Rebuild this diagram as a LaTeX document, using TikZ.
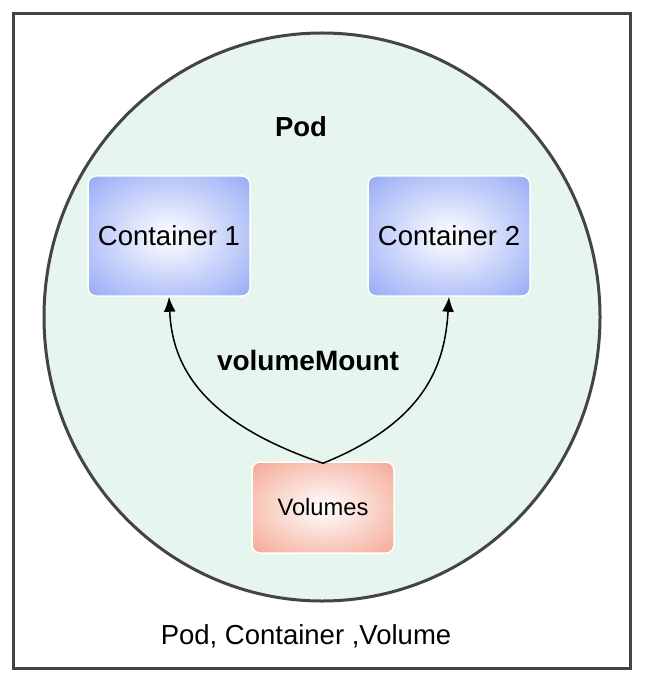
\documentclass[tikz,border=0pt]{standalone}
\usepackage{fontspec}
\setmainfont{Liberation Sans}
\usetikzlibrary{shapes.geometric,arrows.meta}
\definecolor{frame}{HTML}{444444}
\definecolor{mint}{HTML}{E6F6EE}
\definecolor{contblue}{HTML}{8FA5F5}
\definecolor{volred}{HTML}{F3A28C}
\pgfdeclareradialshading{contshade}{\pgfpoint{0bp}{0bp}}{color(0bp)=(white); color(38bp)=(contblue); color(72bp)=(contblue)}
\pgfdeclareradialshading{volshade}{\pgfpoint{0bp}{0bp}}{color(0bp)=(white); color(38bp)=(volred); color(72bp)=(volred)}
\tikzset{
  bigtext/.style={font=\fontsize{27.5}{30}\selectfont},
  cbox/.style={draw=white, line width=1.5pt, rounded corners=8pt, minimum width=162pt, minimum height=120pt, inner sep=0pt, shading=contshade, bigtext},
  vbox/.style={draw=white, line width=1.5pt, rounded corners=8pt, minimum width=142pt, minimum height=91pt, inner sep=0pt, shading=volshade, font=\fontsize{23.7}{26}\selectfont},
  mount/.style={line width=1.5pt, -{Latex[length=15pt,width=12pt]}}
}
\begin{document}
\begin{tikzpicture}[x=1pt,y=-1pt]
\useasboundingbox (0,0) rectangle (644,684);
\node (outer) [draw=frame, line width=3pt, fill=white, minimum width=617pt, minimum height=655pt, inner sep=0pt] at (322,341) {};
\node (pod) [ellipse, draw=frame, line width=3pt, fill=mint, minimum width=556pt, minimum height=568pt, inner sep=0pt] at (322,317) {};
\node (podlabel) [font=\fontsize{27.5}{30}\selectfont\bfseries] at (301,127) {Pod};
\node (c1) [cbox] at (169,236) {Container 1};
\node (c2) [cbox] at (449,236) {Container 2};
\node (vol) [vbox] at (323,507.5) {Volumes};
\node (vm) [font=\fontsize{28}{30}\selectfont\bfseries] at (308,360) {volumeMount};
\node (caption) [bigtext] at (306,636) {Pod, Container ,Volume};
\draw[mount] ([yshift=-2pt]vol.north) .. controls (195,420) and (172,360) .. (c1.south);
\draw[mount] ([yshift=-2pt]vol.north) .. controls (430,420) and (445,360) .. (c2.south);
\end{tikzpicture}
\end{document}
